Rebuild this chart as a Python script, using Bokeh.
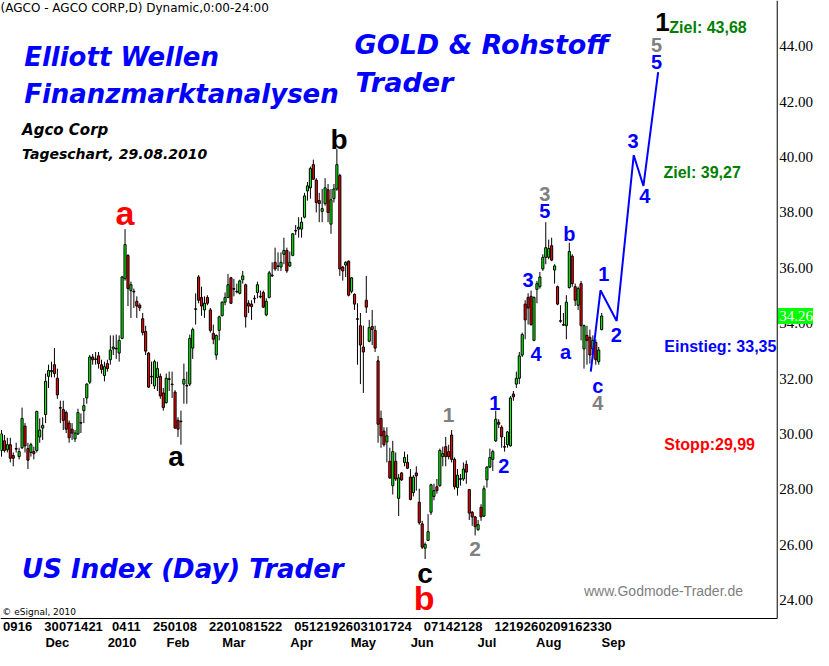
import numpy as np
import pandas as pd
from bokeh.plotting import figure
from bokeh.models import ColumnDataSource, Range1d, Label
from bokeh.core.properties import value
from bokeh.embed import file_html
from bokeh.resources import INLINE

# ---------------- data (AGCO daily) ----------------
open_ = [29.40, 29.75, 29.43, 29.61, 29.22, 29.47, 29.18, 29.50, 30.28, 29.47,
         29.33, 29.36, 29.40, 29.89, 30.21, 30.70, 32.08, 32.25, 32.50, 32.01,
         30.95, 30.88, 30.77, 30.39, 30.17, 29.82, 30.00, 30.39, 30.84, 31.30,
         31.87, 32.78, 32.71, 32.82, 32.50, 32.11, 32.54, 32.68, 33.07, 33.07,
         32.92, 33.45, 35.61, 36.45, 35.18, 35.15, 34.79, 34.65, 34.16, 33.70,
         32.92, 32.08, 31.73, 32.04, 32.08, 31.48, 31.13, 31.97, 31.80, 31.51,
         30.49, 30.46, 31.80, 31.73, 31.80, 33.10, 34.52, 35.67, 34.93, 34.48,
         34.93, 34.48, 33.63, 32.85, 33.74, 34.27, 34.76, 34.93, 35.64, 35.25,
         35.15, 35.08, 35.57, 35.39, 34.72, 34.69, 34.90, 35.11, 34.97, 35.11,
         34.30, 34.93, 35.71, 36.20, 36.07, 36.03, 36.49, 36.63, 36.07, 36.45,
         37.33, 37.40, 37.40, 37.83, 38.78, 38.89, 39.73, 39.17, 38.43, 38.04,
         38.32, 38.82, 37.58, 38.50, 38.85, 39.34, 36.03, 36.10, 36.24, 35.15,
         35.04, 34.16, 33.91, 33.14, 34.83, 33.35, 33.88, 33.74, 32.64, 30.56,
         30.10, 29.71, 29.01, 28.13, 29.01, 27.67, 28.59, 28.97, 28.97, 28.44,
         27.88, 28.59, 27.53, 26.75, 25.87, 26.15, 27.17, 27.74, 28.09, 28.13,
         29.18, 29.54, 29.36, 29.96, 29.08, 28.06, 28.38, 28.37, 28.90, 27.99,
         27.17, 27.00, 26.54, 27.35, 27.03, 28.34, 28.80, 29.08, 29.75, 30.42,
         30.24, 29.54, 29.61, 29.57, 31.44, 31.80, 32.01, 32.85, 34.69, 34.93,
         34.97, 33.38, 35.22, 35.32, 35.96, 36.38, 36.38, 36.80, 35.92, 35.32,
         34.09, 33.95, 33.91, 35.29, 36.42, 35.32, 34.65, 35.43, 33.07, 33.56,
         33.49, 33.07, 33.31, 32.61, 33.77]
high = [30.14, 29.96, 29.86, 29.86, 29.33, 29.68, 29.50, 30.95, 30.39, 29.68,
        29.68, 29.54, 30.84, 30.56, 30.60, 32.18, 32.50, 32.61, 33.10, 32.36,
        31.20, 31.20, 30.84, 30.49, 30.39, 30.14, 30.91, 30.74, 31.30, 31.83,
        32.85, 32.89, 32.96, 32.96, 32.68, 32.61, 32.68, 33.56, 33.56, 33.59,
        33.56, 35.71, 37.40, 36.49, 35.50, 35.25, 34.97, 34.72, 34.37, 33.91,
        32.96, 32.61, 32.68, 32.61, 32.18, 31.66, 32.18, 32.25, 32.25, 31.58,
        30.60, 30.84, 32.54, 32.25, 33.59, 33.84, 35.08, 35.74, 35.32, 34.97,
        35.01, 34.55, 33.95, 33.59, 34.27, 34.79, 35.11, 35.78, 35.67, 35.60,
        35.43, 35.57, 35.89, 35.43, 34.83, 34.83, 35.01, 35.50, 35.18, 35.18,
        34.90, 35.89, 36.20, 36.73, 36.56, 36.56, 37.09, 36.73, 36.59, 37.26,
        37.55, 37.83, 37.83, 38.71, 39.10, 39.66, 39.91, 39.24, 38.71, 38.85,
        39.24, 39.03, 38.85, 39.03, 40.30, 39.40, 36.07, 36.24, 36.27, 35.67,
        35.08, 34.72, 34.37, 33.91, 35.71, 34.12, 34.48, 33.91, 32.82, 30.84,
        30.24, 30.24, 29.50, 29.75, 29.33, 28.55, 28.62, 29.36, 29.26, 28.73,
        28.51, 28.83, 28.02, 26.86, 26.08, 27.10, 28.20, 28.20, 28.37, 29.47,
        29.54, 29.89, 29.61, 30.14, 29.15, 28.73, 28.55, 28.97, 29.04, 28.00,
        27.21, 27.03, 26.89, 27.46, 28.13, 28.83, 29.47, 29.43, 30.84, 30.53,
        30.31, 29.89, 30.10, 31.37, 31.55, 32.25, 32.96, 33.66, 34.83, 35.08,
        35.18, 34.97, 35.53, 35.85, 36.49, 37.65, 37.02, 37.09, 36.13, 35.36,
        34.65, 34.37, 35.01, 36.91, 36.49, 35.43, 35.32, 35.53, 33.95, 33.91,
        33.77, 33.56, 33.42, 33.14, 34.37]
low = [29.18, 29.33, 29.33, 28.97, 28.83, 29.33, 29.08, 29.45, 29.33, 28.73,
       29.18, 29.08, 29.33, 29.68, 29.78, 30.39, 31.66, 32.04, 32.04, 31.27,
       30.39, 30.14, 30.03, 29.68, 29.78, 29.71, 29.96, 30.03, 30.39, 31.09,
       31.80, 32.50, 32.50, 32.36, 32.18, 31.90, 32.25, 32.50, 32.85, 32.71,
       32.61, 33.42, 35.54, 34.62, 34.19, 34.55, 34.19, 34.44, 33.56, 32.85,
       31.66, 31.80, 31.62, 31.55, 31.27, 30.84, 31.09, 31.55, 31.30, 30.19,
       29.89, 29.61, 31.09, 31.09, 31.73, 32.71, 33.95, 34.72, 34.27, 34.19,
       34.65, 33.66, 33.24, 32.68, 33.38, 34.25, 34.65, 34.90, 34.70, 34.97,
       35.08, 35.04, 35.43, 33.84, 34.37, 34.12, 34.72, 34.90, 34.90, 34.55,
       34.25, 34.90, 35.67, 35.89, 35.89, 35.89, 36.13, 35.82, 36.03, 36.42,
       37.19, 37.09, 37.09, 37.79, 38.43, 38.50, 39.20, 38.00, 37.65, 37.65,
       38.25, 37.65, 37.23, 38.36, 38.78, 35.71, 35.54, 35.67, 34.97, 35.08,
       34.48, 32.50, 31.80, 31.48, 34.37, 33.31, 33.21, 32.96, 29.68, 29.50,
       29.54, 28.97, 28.37, 27.81, 28.30, 27.03, 28.30, 28.83, 28.73, 27.60,
       27.74, 27.95, 26.72, 25.84, 25.48, 26.13, 27.07, 27.60, 27.84, 28.09,
       28.83, 28.83, 29.08, 28.97, 27.99, 27.77, 28.13, 28.30, 28.20, 26.89,
       26.68, 26.33, 26.50, 26.86, 27.00, 28.06, 28.76, 28.66, 29.71, 30.21,
       29.50, 29.36, 29.50, 29.54, 31.20, 31.66, 31.80, 32.78, 33.42, 33.95,
       33.91, 33.35, 34.72, 35.25, 35.89, 36.13, 36.31, 36.24, 35.43, 34.65,
       34.02, 33.91, 33.42, 35.25, 35.32, 34.62, 34.48, 33.38, 32.36, 32.50,
       32.54, 32.71, 32.50, 32.50, 33.74]
close = [30.00, 29.40, 29.61, 29.12, 29.12, 29.45, 29.36, 30.56, 29.57, 29.05,
         29.61, 29.29, 30.81, 30.14, 30.31, 31.90, 32.29, 32.29, 32.18, 31.41,
         30.93, 30.49, 30.17, 29.86, 30.03, 30.03, 30.77, 30.41, 31.02, 31.80,
         32.78, 32.68, 32.69, 32.54, 32.33, 32.43, 32.36, 33.03, 33.14, 33.09,
         33.38, 35.67, 36.84, 35.25, 35.39, 35.13, 34.62, 34.55, 33.66, 32.99,
         31.69, 32.06, 32.61, 32.36, 31.37, 30.95, 32.01, 31.99, 31.78, 30.21,
         30.17, 30.44, 31.97, 31.75, 33.45, 33.77, 34.50, 34.83, 34.62, 34.72,
         34.72, 33.74, 33.42, 33.56, 34.23, 34.76, 34.93, 35.39, 34.72, 35.23,
         35.13, 35.53, 35.71, 34.23, 34.62, 34.60, 34.88, 35.39, 34.95, 34.58,
         34.79, 35.82, 35.74, 35.96, 36.05, 36.20, 36.63, 35.89, 36.20, 37.23,
         37.35, 37.47, 37.65, 38.60, 38.96, 39.59, 39.20, 38.36, 38.32, 38.14,
         38.89, 38.00, 38.46, 38.85, 39.73, 35.96, 35.89, 36.20, 35.01, 35.64,
         34.69, 34.14, 33.21, 32.96, 34.58, 33.84, 33.77, 33.10, 30.35, 29.93,
         29.61, 29.93, 28.41, 29.36, 28.37, 28.41, 28.34, 29.15, 28.76, 27.63,
         28.44, 28.48, 26.79, 25.91, 26.01, 26.47, 28.16, 27.95, 27.95, 29.40,
         29.29, 29.18, 29.18, 29.08, 28.09, 28.51, 28.36, 28.73, 28.62, 27.14,
         27.00, 26.65, 26.72, 27.00, 28.02, 28.80, 29.15, 29.36, 30.53, 30.35,
         29.89, 29.52, 30.07, 31.30, 31.34, 32.01, 32.82, 33.59, 34.12, 34.55,
         33.95, 34.93, 35.43, 35.67, 36.38, 36.73, 36.70, 36.28, 36.07, 34.69,
         34.07, 33.93, 34.76, 36.59, 35.43, 34.83, 35.25, 33.91, 33.91, 33.38,
         32.85, 33.38, 32.68, 33.03, 34.26]

first_session = "2009-11-04"
holidays = ["2009-11-26", "2009-12-25", "2010-01-01", "2010-01-18", "2010-02-15",
            "2010-04-02", "2010-05-31", "2010-07-05", "2010-09-06"]
day_label_dates = ["2009-11-09", "2009-11-16", "2009-11-30", "2009-12-07", "2009-12-14",
                   "2009-12-21", "2010-01-04", "2010-01-11", "2010-01-25", "2010-02-01",
                   "2010-02-08", "2010-02-22", "2010-03-01", "2010-03-08", "2010-03-15",
                   "2010-03-22", "2010-04-05", "2010-04-12", "2010-04-19", "2010-04-26",
                   "2010-05-03", "2010-05-10", "2010-05-17", "2010-05-24", "2010-06-07",
                   "2010-06-14", "2010-06-21", "2010-06-28", "2010-07-12", "2010-07-19",
                   "2010-07-26", "2010-08-02", "2010-08-09", "2010-08-16", "2010-08-23",
                   "2010-08-30"]
month_label_dates = ["2009-12-01", "2010-01-04", "2010-02-01", "2010-03-01", "2010-04-01",
                     "2010-05-03", "2010-06-01", "2010-07-01", "2010-08-02", "2010-09-01"]
month_labels = ["Dec", "2010", "Feb", "Mar", "Apr", "May", "Jun", "Jul", "Aug", "Sep"]
price_ticks = [24, 26, 28, 30, 32, 34, 36, 38, 40, 42, 44]
last_price = 34.26

# Elliott projection path (bar index, price)
proj_bar = [200.3, 203.6, 209.1, 214.9, 218.2, 223.2]
proj_price = [32.25, 35.19, 34.08, 40.07, 38.96, 43.07]

# ---------------- calendar ----------------
sessions = pd.bdate_range(first_session, "2010-12-31")
sessions = sessions[~sessions.isin(pd.to_datetime(holidays))]
pos = {d: i for i, d in enumerate(sessions)}

n = len(close)
o = np.array(open_); c = np.array(close)
src = ColumnDataSource(dict(
    x=np.arange(n), high=high, low=low,
    top=np.maximum(o, c), bottom=np.minimum(o, c),
    color=np.where(c >= o, "#00FF00", "#FF0000"),
))

# ---------------- layout of the single frame ----------------
FIG_W, FIG_H = 813, 650
STRIP = 32                              # px for the date rows below the price area
X0, AXIS_X, X1 = -0.33, 263.67, 276.0
Y0, Y1 = 23.33, 45.66
per_px = (Y1 - Y0) / (FIG_H - STRIP)
YB = Y0 - STRIP * per_px
DAY_ROW = Y0 - 8 * per_px
MONTH_ROW = Y0 - 24 * per_px

p = figure(width=FIG_W, height=FIG_H, x_range=Range1d(X0, X1), y_range=Range1d(YB, Y1),
           output_backend="svg", toolbar_location=None,
           x_axis_location=None, y_axis_location=None,
           min_border_left=0, min_border_top=0, min_border_right=0, min_border_bottom=0)
p.outline_line_color = None
p.background_fill_color = "white"
p.border_fill_color = "white"
for g in p.grid:
    g.visible = False

# candles
p.segment(x0="x", y0="low", x1="x", y1="high", source=src, line_color="black", line_width=1)
p.vbar(x="x", width=0.72, top="top", bottom="bottom", source=src,
       fill_color="color", line_color="black", line_width=1)

# Elliott projection
p.line(proj_bar, proj_price, line_color="#0000FF", line_width=2)

# frame lines (right price axis and bottom time axis)
p.segment(x0=[AXIS_X, X0], y0=[Y0, Y0], x1=[AXIS_X, AXIS_X], y1=[Y1, Y0],
          line_color="black", line_width=1)

# price labels + last-price badge
p.text(x=[AXIS_X] * len(price_ticks), y=price_ticks,
       text=["%.2f" % t for t in price_ticks], x_offset=2,
       text_font=value("Liberation Serif"), text_font_size=value("15px"),
       text_color="black", text_align="left", text_baseline="middle")
badge_half = 8 * per_px
p.quad(left=[AXIS_X + 0.25], right=[X1], bottom=[last_price - badge_half],
       top=[last_price + badge_half], fill_color="#00FF00", line_color=None)
p.text(x=[AXIS_X], y=[last_price], text=["%.2f" % last_price], x_offset=2,
       text_font=value("Liberation Serif"), text_font_size=value("15px"),
       text_color="white", text_align="left", text_baseline="middle")

# date labels: day numbers row and month row
day_ticks = [pos[pd.Timestamp(d)] for d in day_label_dates]
day_text = ["%02d" % pd.Timestamp(d).day for d in day_label_dates]
m_ticks = [pos[pd.Timestamp(d)] + 1 for d in month_label_dates]
p.text(x=day_ticks, y=[DAY_ROW] * len(day_ticks), text=day_text,
       text_font=value("Liberation Sans"), text_font_style="bold",
       text_font_size=value("13px"), text_color="black",
       text_align="center", text_baseline="middle")
p.text(x=m_ticks, y=[MONTH_ROW] * len(m_ticks), text=month_labels,
       text_font=value("Liberation Sans"), text_font_style="bold",
       text_font_size=value("13px"), text_color="black",
       text_align="center", text_baseline="middle")

# ---------------- annotations ----------------
BLUE, GRAY, RED, BLACK, GREEN = "#0000FF", "#808080", "#FF0000", "#000000", "#008000"

wave_labels = [
    ("a", 42.0, 37.97, RED, 34), ("b", 143.7, 24.07, RED, 34),
    ("a", 59.3, 29.19, BLACK, 28), ("b", 114.7, 40.65, BLACK, 28),
    ("c", 144.0, 24.95, BLACK, 28), ("1", 224.7, 44.88, BLACK, 26),
    ("1", 152.0, 30.67, GRAY, 21), ("2", 161.0, 25.83, GRAY, 21),
    ("3", 184.7, 38.67, GRAY, 20), ("4", 202.7, 31.13, GRAY, 20),
    ("5", 222.7, 44.04, GRAY, 20),
    ("1", 167.7, 31.13, BLUE, 20), ("2", 170.7, 28.83, BLUE, 20),
    ("3", 179.0, 35.57, BLUE, 20), ("4", 181.7, 32.89, BLUE, 20),
    ("5", 184.7, 38.07, BLUE, 20), ("a", 191.7, 32.96, BLUE, 20),
    ("b", 193.0, 37.23, BLUE, 20), ("c", 202.7, 31.72, BLUE, 20),
    ("1", 204.7, 35.78, BLUE, 20), ("2", 209.0, 33.56, BLUE, 20),
    ("3", 214.7, 40.58, BLUE, 20), ("4", 218.7, 38.60, BLUE, 20),
    ("5", 222.7, 43.44, BLUE, 20),
]
for t, x, y, col, sz in wave_labels:
    p.add_layout(Label(x=x, y=y, text=t, text_color=col, text_font="Liberation Sans",
                       text_font_style="bold", text_font_size="%dpx" % sz,
                       text_align="center", text_baseline="middle"))

side_texts = [
    ("Ziel: 43,68", 227.0, 44.67, GREEN), ("Ziel: 39,27", 225.0, 39.45, GREEN),
    ("Einstieg: 33,35", 225.3, 33.17, BLUE), ("Stopp:29,99", 225.3, 29.61, RED),
]
for t, x, y, col in side_texts:
    p.add_layout(Label(x=x, y=y, text=t, text_color=col, text_font="Liberation Sans",
                       text_font_style="bold", text_font_size="16px",
                       text_align="left", text_baseline="middle"))

titles = [
    ("Elliott Wellen", 7.7, 43.61, BLUE, 26, "bold italic", "DejaVu Sans"),
    ("Finanzmarktanalysen", 7.7, 42.27, BLUE, 26, "bold italic", "DejaVu Sans"),
    ("GOLD & Rohstoff", 120.0, 44.07, BLUE, 27, "bold italic", "DejaVu Sans"),
    ("Trader", 120.3, 42.69, BLUE, 27, "bold italic", "DejaVu Sans"),
    ("Agco Corp", 7.0, 40.97, BLACK, 15, "bold italic", "DejaVu Sans"),
    ("Tageschart, 29.08.2010", 7.0, 40.12, BLACK, 14, "bold italic", "DejaVu Sans"),
    ("US Index (Day) Trader", 7.0, 25.13, BLUE, 26, "bold italic", "DejaVu Sans"),
    ("www.Godmode-Trader.de", 198.0, 24.32, GRAY, 14, "normal", "Liberation Sans"),
    ("\u00a9 eSignal, 2010", 0.3, 23.58, BLACK, 9, "normal", "DejaVu Sans"),
    ("(AGCO - AGCO CORP,D) Dynamic,0:00-24:00", -0.3, 45.38, BLACK, 12, "normal", "DejaVu Sans"),
]
for t, x, y, col, sz, st, fnt in titles:
    p.add_layout(Label(x=x, y=y, text=t, text_color=col, text_font=fnt,
                       text_font_style=st, text_font_size="%dpx" % sz,
                       text_align="left", text_baseline="middle"))

open("out.html", "w").write(file_html(p, INLINE))
